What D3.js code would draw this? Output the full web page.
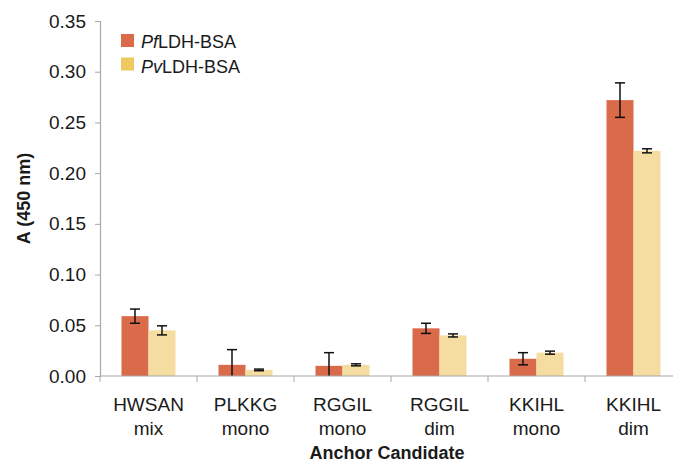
<!DOCTYPE html>
<html>
<head>
<meta charset="utf-8">
<script src="https://cdn.jsdelivr.net/npm/d3@7"></script>
<style>
  body { margin: 0; background: #fff; }
  text { font-family: "Liberation Sans", Arial, sans-serif; fill: #1a1a1a; }
</style>
</head>
<body>
<svg id="chart" width="673" height="464"></svg>
<script>
// data
const categories = ["HWSAN mix", "PLKKG mono", "RGGIL mono", "RGGIL dim", "KKIHL mono", "KKIHL dim"];
const seriesNames = ["PfLDH-BSA", "PvLDH-BSA"];
const pfValues = [0.059, 0.011, 0.010, 0.047, 0.017, 0.272];
const pfErrors = [0.007, 0.015, 0.013, 0.005, 0.006, 0.017];
const pvValues = [0.045, 0.006, 0.011, 0.040, 0.023, 0.222];
const pvErrors = [0.0045, 0.0008, 0.001, 0.0015, 0.0015, 0.002];
const yTicks = [0, 0.05, 0.10, 0.15, 0.20, 0.25, 0.30, 0.35];

const width = 673, height = 464;
const margin = { left: 100, right: -9, top: 21, bottom: 88 };
const barColors = ["#d96a4a", "#f5dda2"];
const legendColors = ["#d96a4a", "#eec95f"];

const svg = d3.select("#chart");

let xScale = d3.scaleBand()
  .domain(categories)
  .range([margin.left, width - margin.right])
  .padding(0);

let yScale = d3.scaleLinear()
  .domain([0, 0.35])
  .range([height - margin.bottom, margin.top]);

let barW = 27;
let subScale = d3.scaleBand()
  .domain(seriesNames)
  .range([xScale.bandwidth() / 2 - barW, xScale.bandwidth() / 2 + barW]);

/* ========== BARS ========== */

let rows = [];
categories.forEach((c, i) => {
  rows.push({ cat: c, s: seriesNames[0], v: pfValues[i], e: pfErrors[i], k: 0 });
  rows.push({ cat: c, s: seriesNames[1], v: pvValues[i], e: pvErrors[i], k: 1 });
});

svg.append("g").selectAll("rect")
  .data(rows)
  .join("rect")
  .attr("x", d => xScale(d.cat) + subScale(d.s))
  .attr("y", d => yScale(d.v))
  .attr("width", subScale.bandwidth())
  .attr("height", d => yScale(0) - yScale(d.v))
  .attr("fill", d => barColors[d.k]);

/* ========== ERROR BARS ========== */

let errG = svg.append("g")
  .attr("stroke", "#111")
  .attr("stroke-width", 1.5);
let cap = 5;
rows.forEach(d => {
  let cx = xScale(d.cat) + subScale(d.s) + subScale.bandwidth() / 2;
  let lo = d.v - d.e;
  let y1 = yScale(d.v + d.e), y2 = yScale(Math.max(0, lo));
  errG.append("line").attr("x1", cx).attr("x2", cx).attr("y1", y1).attr("y2", y2);
  errG.append("line").attr("x1", cx - cap).attr("x2", cx + cap).attr("y1", y1).attr("y2", y1);
  if (lo > 0) {
    errG.append("line").attr("x1", cx - cap).attr("x2", cx + cap).attr("y1", y2).attr("y2", y2);
  }
});

/* ========== AXES ========== */

let yAxis = d3.axisLeft(yScale)
  .tickValues(yTicks)
  .tickFormat(d3.format(".2f"))
  .tickSize(5)
  .tickPadding(9);

let yAxisSel = svg.append("g")
  .attr("transform", "translate(" + margin.left + ",0)")
  .call(yAxis);
yAxisSel.select(".domain").attr("stroke", "#a8a8a8").attr("stroke-width", 1.2);
yAxisSel.selectAll(".tick line").attr("stroke", "#a8a8a8");
yAxisSel.selectAll(".tick text")
  .style("font-size", "19px")
  .attr("fill", "#1a1a1a");

// x axis: line with ticks at category boundaries
let xg = svg.append("g").attr("transform", "translate(0," + yScale(0) + ")");
xg.append("line")
  .attr("x1", margin.left).attr("x2", width)
  .attr("stroke", "#a8a8a8").attr("stroke-width", 1.2);
xg.selectAll("line.tk")
  .data(categories)
  .join("line")
  .attr("class", "tk")
  .attr("x1", d => xScale(d)).attr("x2", d => xScale(d))
  .attr("y1", 0).attr("y2", 6)
  .attr("stroke", "#a8a8a8");

let labels = xg.selectAll("text.cat")
  .data(categories)
  .join("text")
  .attr("class", "cat")
  .attr("text-anchor", "middle")
  .style("font-size", "19px")
  .attr("transform", d => "translate(" + (xScale(d) + xScale.bandwidth() / 2) + ",0)");
labels.append("tspan").attr("x", 0).attr("y", 35).text(d => d.split(" ")[0]);
labels.append("tspan").attr("x", 0).attr("y", 59).text(d => d.split(" ")[1]);

/* ========== TITLES ========== */

svg.append("text")
  .attr("x", 387)
  .attr("y", 459)
  .attr("text-anchor", "middle")
  .style("font-size", "18px")
  .style("font-weight", "bold")
  .text("Anchor Candidate");

svg.append("text")
  .attr("transform", "translate(30," + (yScale(0.175)) + ") rotate(-90)")
  .attr("text-anchor", "middle")
  .style("font-size", "18px")
  .style("font-weight", "bold")
  .text("A (450 nm)");

/* ========== LEGEND ========== */

let legend = svg.append("g");
seriesNames.forEach((name, i) => {
  legend.append("rect")
    .attr("x", 121).attr("y", 34 + 23.5 * i)
    .attr("width", 13).attr("height", 13)
    .attr("fill", legendColors[i]);
  let t = legend.append("text")
    .attr("x", 141).attr("y", 48 + 24.5 * i)
    .style("font-size", "18px");
  t.append("tspan").style("font-style", "italic").text(name.slice(0, 2));
  t.append("tspan").text(name.slice(2));
});
</script>
</body>
</html>
